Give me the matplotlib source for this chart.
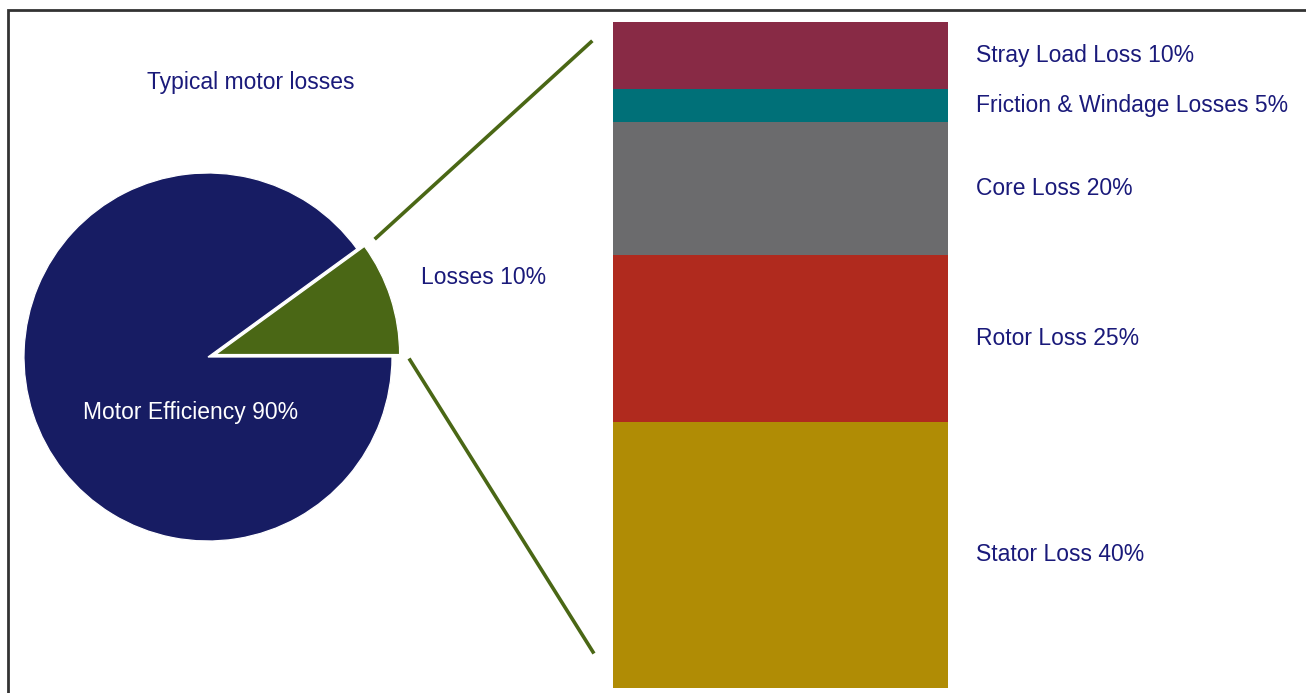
import matplotlib
matplotlib.use("Agg")
import matplotlib.pyplot as plt

# pie: motor efficiency vs losses
pie_labels = ["Losses 10%", "Motor Efficiency 90%"]
pie_values = [10, 90]
pie_colors = ["#4a6715", "#171c63"]

# stacked bar: breakdown of the losses (bottom to top)
loss_labels = ["Stator Loss 40%", "Rotor Loss 25%", "Core Loss 20%",
               "Friction & Windage Losses 5%", "Stray Load Loss 10%"]
loss_values = [40, 25, 20, 5, 10]
loss_colors = ["#b08c05", "#b02a1e", "#6b6b6d", "#007078", "#882a45"]

title = "Typical motor losses"
TEXT = "#1a1a7a"
FS = 16.5
W, H = 1306, 693

plt.rcParams['font.family'] = ['Liberation Sans', 'DejaVu Sans']

fig = plt.figure(figsize=(W / 100, H / 100), dpi=100)
ax = fig.add_axes([0, 0, 1, 1])

wedges, _ = ax.pie(pie_values, colors=pie_colors, startangle=0, counterclock=True,
                   center=(208, H - 357), radius=184, explode=[8, 0],
                   wedgeprops=dict(edgecolor="white", linewidth=0.9))
ax.set_xlim(0, W)
ax.set_ylim(0, H)
ax.axis("off")

ax.text(83, H - 413, pie_labels[1], color="white", fontsize=FS, va="center")
ax.text(421, H - 278, pie_labels[0], color=TEXT, fontsize=FS, va="center")
ax.text(147, H - 82, title, color=TEXT, fontsize=FS, va="center")

# connector lines from the losses wedge to the bar
ax.plot([376, 591], [H - 238, H - 42], color="#4a6715", lw=2.6)
ax.plot([410, 593], [H - 360, H - 652], color="#4a6715", lw=2.6)

# frame (cropped on right and bottom)
ax.plot([8, 8, W + 5], [-5, H - 10, H - 10], color="#333333", lw=2, solid_joinstyle="miter")

bx = fig.add_axes([613 / W, 5 / H, (948 - 613) / W, 666 / H])
bottom = 0
label_y = []
for v, c in zip(loss_values, loss_colors):
    bx.bar(0, v, bottom=bottom, color=c, width=1.0)
    label_y.append(bottom + v / 2)
    bottom += v
bx.set_xlim(-0.5, 0.5)
bx.set_ylim(0, 100)
bx.axis("off")

for lab, y in zip(loss_labels, label_y):
    bx.text(1.085, y, lab, color=TEXT, fontsize=FS, va="center",
            transform=bx.get_yaxis_transform())

fig.savefig("out.png", dpi=100)
